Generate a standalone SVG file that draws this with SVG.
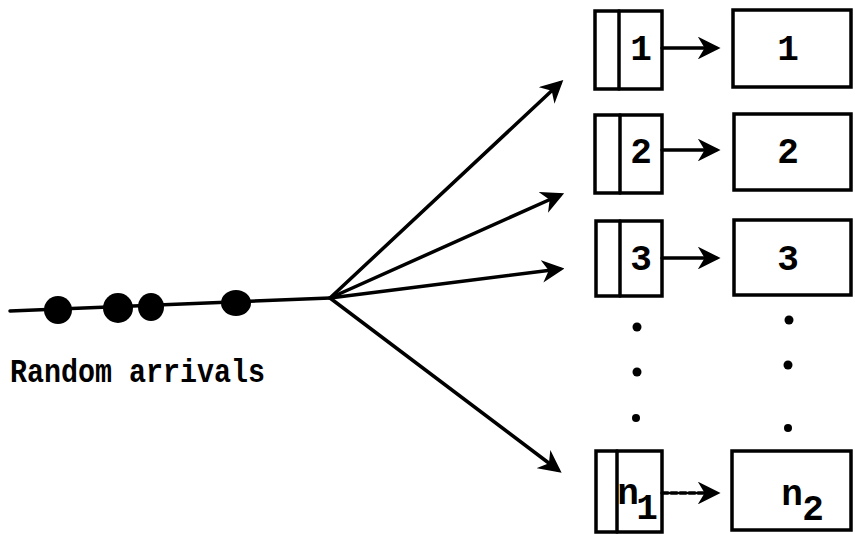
<svg xmlns="http://www.w3.org/2000/svg" width="855" height="534" viewBox="0 0 855 534">
<style>
.box{fill:none;stroke:#000;stroke-width:3.5}
.ln{fill:none;stroke:#000;stroke-width:3.5;stroke-linecap:round}
.num{font-family:"Liberation Mono","DejaVu Sans Mono",monospace;font-weight:bold;font-size:36px;text-anchor:middle;fill:#000}
.lbl{font-family:"Liberation Mono","DejaVu Sans Mono",monospace;font-weight:bold;font-size:33px;fill:#000}
.dot{fill:#000}
</style>
<defs>
<marker id="ah" viewBox="0 0 10 10" refX="8" refY="5" markerWidth="6.5" markerHeight="6.5" orient="auto" markerUnits="strokeWidth">
<path d="M0,0 L10,5 L0,10 L3,5 Z" fill="#000"/>
</marker>
</defs>
<rect width="855" height="534" fill="#fff"/>
<g id="arrivals">
<line class="ln" x1="10" y1="311" x2="330" y2="298"/>
<ellipse class="dot" cx="58" cy="310" rx="14" ry="14"/>
<ellipse class="dot" cx="118" cy="308" rx="15" ry="15"/>
<ellipse class="dot" cx="151" cy="307" rx="13" ry="14"/>
<ellipse class="dot" cx="236" cy="303" rx="15" ry="13"/>
<text class="lbl" x="10" y="382" textLength="255" lengthAdjust="spacingAndGlyphs">Random arrivals</text>
</g>
<g id="connectors">
<line class="ln" x1="330" y1="298" x2="560" y2="83" marker-end="url(#ah)"/>
<line class="ln" x1="330" y1="298" x2="560" y2="195" marker-end="url(#ah)"/>
<line class="ln" x1="330" y1="298" x2="560" y2="269" marker-end="url(#ah)"/>
<line class="ln" x1="330" y1="298" x2="558" y2="470" marker-end="url(#ah)"/>
<line class="ln" x1="662" y1="48" x2="716" y2="48" marker-end="url(#ah)"/>
<line class="ln" x1="662" y1="150" x2="716" y2="150" marker-end="url(#ah)"/>
<line class="ln" x1="662" y1="258" x2="716" y2="258" marker-end="url(#ah)"/>
<line class="ln" x1="662" y1="493" x2="716" y2="493" stroke-dasharray="6 3" marker-end="url(#ah)"/>
</g>
<g id="queue1">
<rect class="box" x="595" y="11" width="67" height="78"/>
<line class="ln" x1="619" y1="11" x2="619" y2="89"/>
<text class="num" x="641" y="60">1</text>
</g>
<g id="queue2">
<rect class="box" x="595" y="115" width="67" height="78"/>
<line class="ln" x1="620" y1="115" x2="620" y2="193"/>
<text class="num" x="641" y="163">2</text>
</g>
<g id="queue3">
<rect class="box" x="596" y="221" width="66" height="75"/>
<line class="ln" x1="620" y1="221" x2="620" y2="296"/>
<text class="num" x="641" y="270">3</text>
</g>
<g id="queueN">
<rect class="box" x="596" y="451" width="66" height="81"/>
<line class="ln" x1="617" y1="451" x2="617" y2="532"/>
<text class="num" x="628" y="504">n</text>
<text class="num" x="647" y="519">1</text>
</g>
<g id="server1">
<rect class="box" x="733" y="10" width="118" height="77"/>
<text class="num" x="788" y="60">1</text>
</g>
<g id="server2">
<rect class="box" x="734" y="114" width="117" height="76"/>
<text class="num" x="788" y="163">2</text>
</g>
<g id="server3">
<rect class="box" x="734" y="220" width="117" height="75"/>
<text class="num" x="788" y="270">3</text>
</g>
<g id="serverN">
<rect class="box" x="732" y="451" width="119" height="79"/>
<text class="num" x="792" y="505">n</text>
<text class="num" x="813" y="520">2</text>
</g>
<g id="ellipsis">
<circle class="dot" cx="637" cy="327" r="4.5"/>
<circle class="dot" cx="637" cy="372" r="4.5"/>
<circle class="dot" cx="636" cy="418" r="4"/>
<circle class="dot" cx="789" cy="320" r="4.5"/>
<circle class="dot" cx="788" cy="365" r="4.5"/>
<circle class="dot" cx="788" cy="428" r="4"/>
</g>
</svg>
